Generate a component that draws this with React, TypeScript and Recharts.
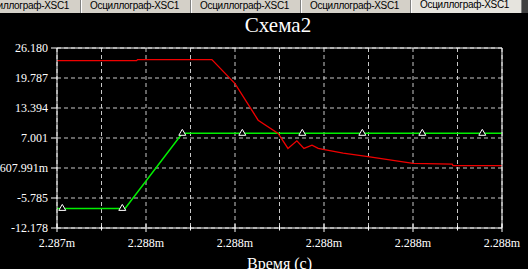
import React from "react";
import {
  CartesianGrid,
  ComposedChart,
  Label,
  Line,
  ReferenceLine,
  Scatter,
  XAxis,
  YAxis,
} from "recharts";

// time axis is in grid divisions (0..10), labels as the scope prints them
const xTicks = [0, 1, 2, 3, 4, 5, 6, 7, 8, 9, 10];
const xTickLabels = ["2.287m", "", "2.288m", "", "2.288m", "", "2.288m", "", "2.288m", "", "2.288m"];
const yTicks = [-12.178, -5.785, 0.607991, 7.001, 13.394, 19.787, 26.18];
const yTickLabels = ["-12.178", "-5.785", "607.991m", "7.001", "13.394", "19.787", "26.180"];

const tabLabels = [
  "Осциллограф-XSC1",
  "Осциллограф-XSC1",
  "Осциллограф-XSC1",
  "Осциллограф-XSC1",
  "Осциллограф-XSC1",
];
const activeTab = 4;

const redT = [0, 1.79, 1.81, 3.48, 4.0, 4.52, 4.97, 5.19, 5.39, 5.55, 5.73, 5.87, 5.98, 6.43, 6.99, 8.0, 8.88, 8.9, 10];
const redV = [23.5, 23.5, 23.71, 23.71, 18.6, 10.8, 7.97, 4.78, 6.39, 4.78, 5.48, 4.78, 4.56, 3.78, 3.03, 1.59, 1.44, 1.12, 1.12];

const greenT = [0, 1.53, 2.816, 10];
const greenV = [-8, -8, 8, 8];

const markerT = [0.119, 1.467, 2.816, 4.164, 5.512, 6.861, 8.209, 9.557];
const markerV = [-8, -8, 8, 8, 8, 8, 8, 8];

const redData = redT.map((t, i) => ({ t, v: redV[i] }));
const greenData = greenT.map((t, i) => ({ t, v: greenV[i] }));
const markerData = markerT.map((t, i) => ({ t, v: markerV[i] }));

const serif = "'Liberation Serif', 'Times New Roman', serif";

const yLabel = (v: number) => {
  let best = 0;
  yTicks.forEach((tk, i) => {
    if (Math.abs(tk - v) < Math.abs(yTicks[best] - v)) best = i;
  });
  return yTickLabels[best];
};

const XTick = (props: any) => {
  const { x, y, payload } = props;
  const idx = xTicks.indexOf(payload.value);
  const label = xTickLabels[idx] || "";
  const h = label ? 4 : 2.5;
  return (
    <g>
      <line x1={x} x2={x} y1={y - h} y2={y + h} stroke="#fff" />
      {label && (
        <text
          x={x}
          y={y + 19}
          textAnchor="middle"
          fill="#fff"
          fontSize={12}
          style={{ fontFamily: serif }}
        >
          {label}
        </text>
      )}
    </g>
  );
};

const YTick = (props: any) => {
  const { x, y, payload, textAnchor } = props;
  return (
    <text
      x={x}
      y={y + 4}
      textAnchor={textAnchor}
      fill="#fff"
      fontSize={12}
      style={{ fontFamily: serif }}
    >
      {yLabel(payload.value)}
    </text>
  );
};

const Triangle = (props: any) => {
  const { cx, cy } = props;
  return (
    <polygon
      points={`${cx},${cy - 4} ${cx - 3.5},${cy + 2} ${cx + 3.5},${cy + 2}`}
      fill="#000"
      stroke="#fff"
      strokeWidth={1}
    />
  );
};

const App = () => {
  return (
    <div style={{ position: "absolute", left: 0, top: 0, width: 528, height: 269, background: "#000", overflow: "hidden" }}>
      <ComposedChart width={528} height={269} margin={{ top: 48, right: 0, left: 0, bottom: 0 }}>
        <CartesianGrid
          yAxisId="l"
          stroke="#c8c8c8"
          strokeDasharray="4 3"
          horizontalValues={yTicks}
          verticalValues={xTicks}
        />
        <XAxis
          dataKey="t"
          type="number"
          domain={[0, 10]}
          ticks={xTicks}
          interval={0}
          height={41}
          axisLine={{ stroke: "#fff" }}
          tickLine={false}
          tickSize={0}
          tickMargin={0}
          tick={<XTick />}
          allowDuplicatedCategory={false}
        >
          <Label
            value="Время (с)"
            position="insideBottom"
            offset={0}
            fill="#fff"
            fontSize={16}
            style={{ fontFamily: serif }}
          />
        </XAxis>
        <YAxis
          yAxisId="l"
          orientation="left"
          type="number"
          domain={[-12.178, 26.18]}
          ticks={yTicks}
          interval={0}
          width={57}
          axisLine={{ stroke: "#fff" }}
          tickLine={{ stroke: "#fff" }}
          tickSize={6}
          tickMargin={3}
          tick={<YTick />}
        />
        <YAxis
          yAxisId="r"
          orientation="right"
          type="number"
          domain={[-12.178, 26.18]}
          ticks={yTicks}
          interval={0}
          width={26}
          axisLine={{ stroke: "#fff" }}
          tickLine={{ stroke: "#fff" }}
          tickSize={4}
          tickMargin={2}
          tick={<YTick />}
        />
        <ReferenceLine yAxisId="l" y={26.18} stroke="#fff" />
        <Line
          yAxisId="l"
          data={greenData}
          dataKey="v"
          type="linear"
          stroke="#00f000"
          strokeWidth={1.5}
          dot={false}
          activeDot={false}
          isAnimationActive={false}
        />
        <Line
          yAxisId="l"
          data={redData}
          dataKey="v"
          type="linear"
          stroke="#f00000"
          strokeWidth={1.3}
          dot={false}
          activeDot={false}
          isAnimationActive={false}
        />
        <Scatter
          yAxisId="l"
          data={markerData}
          dataKey="v"
          shape={<Triangle />}
          isAnimationActive={false}
        />
      </ComposedChart>
      <div
        style={{
          position: "absolute",
          left: 0,
          top: 0,
          width: 528,
          height: 13,
          background: "#404040",
          overflow: "hidden",
          fontFamily: "'Liberation Sans', Arial, sans-serif",
          fontSize: 10,
          letterSpacing: -0.3,
        }}
      >
        <div style={{ display: "flex", marginLeft: -29 }}>
          {tabLabels.map((name, i) => (
            <div
              key={i}
              style={{
                flex: "0 0 auto",
                boxSizing: "border-box",
                width: i === activeTab ? 111 : 110,
                height: 13,
                paddingLeft: 8,
                paddingTop: i === activeTab ? 0 : 1,
                lineHeight: "10px",
                background: i === activeTab ? "#e6e4de" : "#d4d0c8",
                borderRight: "1px solid #808080",
                borderLeft: "1px solid #fff",
                color: "#000",
                whiteSpace: "nowrap",
                overflow: "hidden",
              }}
            >
              {name}
            </div>
          ))}
        </div>
      </div>
      <div
        style={{
          position: "absolute",
          left: 0,
          width: 556,
          top: 13,
          textAlign: "center",
          color: "#fff",
          fontFamily: serif,
          fontSize: 21,
          lineHeight: "25px",
        }}
      >
        Схема2
      </div>
    </div>
  );
};

export default App;
